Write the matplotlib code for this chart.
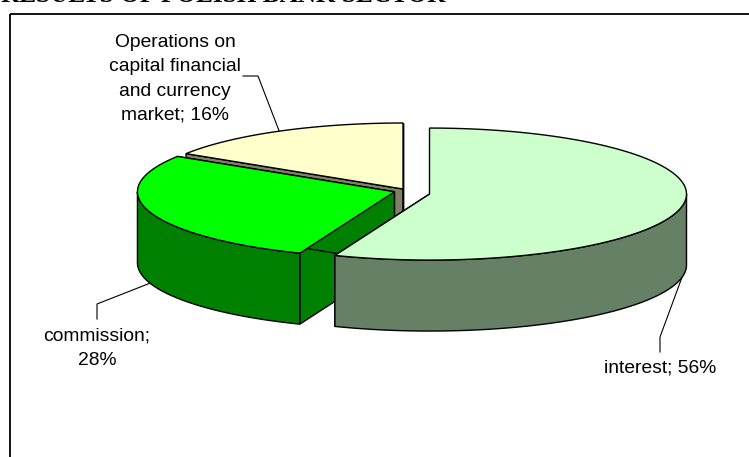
import numpy as np
import matplotlib.pyplot as plt
from matplotlib.patches import Polygon, Rectangle

plt.rcParams['font.family'] = ['Liberation Sans', 'DejaVu Sans']

# ── data ────────────────────────────────────────────────────────────────────
categories = ['interest', 'commission',
              'Operations on\ncapital financial\nand currency\nmarket']
shares = [56, 28, 16]
label_sep = [' ', '\n', ' ']
top_colors = ['#CCFFCC', '#00FF00', '#FFFFCC']
side_colors = ['#668066', '#008000', '#808066']
explode = [0.105, 0.035, 0.0]

# ── pie geometry (pixels) ───────────────────────────────────────────────────
CX, CY = 403, 189      # centre of the top ellipse
A, B = 257, 66         # semi axes
H = 71                 # thickness of the disc

label_xy = [(660, 368), (97, 348), (175, 79)]
elbows = [[(660, 352), (660, 337)],
          [(97, 319), (97, 304)],
          [(243, 76), (258, 76)]]


def rim(cx, cy, t):
    t = np.radians(t)
    return np.column_stack([cx + A * np.cos(t), cy - B * np.sin(t)])


fig = plt.figure(figsize=(7.49, 4.57), dpi=100)
ax = fig.add_axes([0, 0, 1, 1])
ax.set_xlim(0, 749)
ax.set_ylim(457, 0)
ax.axis('off')

edge = dict(edgecolor='black', linewidth=1.0, joinstyle='miter')

# angles run clockwise from 12 o'clock
bounds = 90 - 3.6 * np.concatenate([[0], np.cumsum(shares)])
slices = []
for i in range(len(shares)):
    t1, t2 = bounds[i], bounds[i + 1]
    mid = (t1 + t2) / 2
    # exploded slices slide outwards and drop a little towards the viewer
    cx = CX + explode[i] * A * np.cos(np.radians(mid))
    cy = CY - explode[i] * A * np.sin(np.radians(mid))
    slices.append((i, t1, t2, mid, cx, cy))

# back slice first, then the ones nearer the viewer
for i, t1, t2, mid, cx, cy in [slices[2], slices[1], slices[0]]:
    c = np.array([cx, cy])
    down = np.array([0, H])
    # radial walls
    for t in (t1, t2):
        p = rim(cx, cy, [t])[0]
        ax.add_patch(Polygon([c, p, p + down, c + down], closed=True,
                             facecolor=side_colors[i], **edge))
    # curved front wall
    lo, hi = max(t2, -180), min(t1, 0)
    if hi > lo:
        arc = rim(cx, cy, np.linspace(hi, lo, 120))
        wall = np.vstack([arc, arc[::-1] + down])
        ax.add_patch(Polygon(wall, closed=True,
                             facecolor=side_colors[i], **edge))
    # top face
    arc = rim(cx, cy, np.linspace(t1, t2, 200))
    ax.add_patch(Polygon(np.vstack([c, arc]), closed=True,
                         facecolor=top_colors[i], **edge))

# labels with leader lines
for i, t1, t2, mid, cx, cy in slices:
    end = rim(cx, cy, [mid])[0]
    if np.sin(np.radians(mid)) < 0:
        end = end + np.array([0, H])
    path = np.array(elbows[i] + [tuple(end)])
    ax.plot(path[:, 0], path[:, 1], color='black', lw=0.8)
    ax.text(*label_xy[i], f'{categories[i]};{label_sep[i]}{shares[i]}%',
            ha='center', va='center', fontsize=13.9, linespacing=1.55,
            color='black')

# chart frame and (cropped) heading
ax.add_patch(Rectangle((9.5, 13.5), 800, 500, fill=False,
                       edgecolor='black', linewidth=1.3))
ax.text(445, 1.5, 'RESULTS OF POLISH BANK SECTOR', ha='right',
        va='baseline', family='Liberation Serif', fontweight='bold',
        fontsize=18.2)

fig.savefig('out.png', dpi=100)
